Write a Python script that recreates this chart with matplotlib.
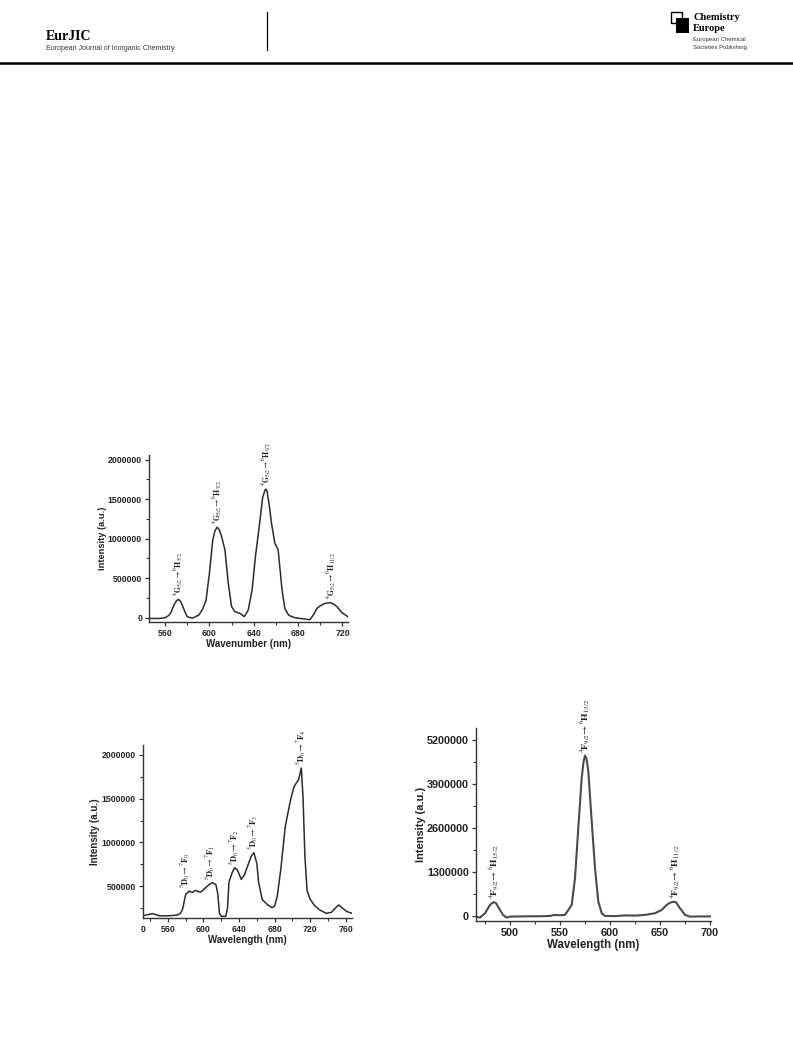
import numpy as np
import matplotlib
matplotlib.use("Agg")
import matplotlib.pyplot as plt
from matplotlib.patches import Rectangle
from matplotlib.lines import Line2D
from matplotlib.ticker import MultipleLocator, FixedLocator, FuncFormatter

plt.rcParams['font.family'] = ['Liberation Sans', 'DejaVu Sans']
plt.rcParams['mathtext.fontset'] = 'stix'

# --- spectrum 1 (Sm) ---
sm_nm = [545, 555, 560, 563, 565, 568, 570, 572, 574, 575.5, 578, 580, 584.5, 590.5, 594, 597,
         600, 603, 605, 607, 609, 611, 614, 617, 620, 623, 627.5, 631.5, 635, 638.5, 641.5,
         644, 646, 648, 650, 651, 652, 654, 656, 659, 662, 665.5, 668, 671.5, 677, 683, 690,
         691, 694, 697, 700, 703, 706, 709, 712, 715, 719.5, 724, 725]
sm_int = [-10000, -10000, 0, 25000, 55000, 160000, 210000, 232000, 205000, 160000, 70000,
          13000, -8000, 34000, 110000, 224000, 562000, 985000, 1100000, 1146000, 1110000,
          1027000, 858000, 435000, 140000, 76000, 55000, 13000, 97000, 351000, 774000, 1050000,
          1281000, 1520000, 1610000, 1628000, 1600000, 1420000, 1196000, 943000, 858000,
          351000, 118000, 30000, 0, -12000, -25000, -20000, 40000, 118000, 150000, 173000,
          185000, 190000, 172000, 140000, 63000, 21000, 10000]
sm_labels = [(572, 232000, r'$^{4}\mathbf{G}_{5/2}\!\rightarrow{}^{6}\mathbf{H}_{5/2}$'),
             (607, 1146000, r'$^{4}\mathbf{G}_{5/2}\!\rightarrow{}^{6}\mathbf{H}_{7/2}$'),
             (651, 1628000, r'$^{4}\mathbf{G}_{5/2}\!\rightarrow{}^{6}\mathbf{H}_{9/2}$'),
             (710, 190000, r'$^{4}\mathbf{G}_{5/2}\!\rightarrow{}^{6}\mathbf{H}_{11/2}$')]

# --- spectrum 2 (Eu) ---
eu_nm = [532, 538, 543, 550, 560, 570, 574, 576.5, 580, 584, 587.5, 591, 594, 597, 604, 607,
         610, 614, 616, 618, 620, 625, 627, 628.7, 632, 635, 638, 642.5, 646, 651, 654, 656.7,
         660, 662, 666, 672, 677, 680, 683, 687, 692, 698, 702, 707, 710, 712, 714, 716.5,
         720, 725, 731, 738, 744, 748, 752, 756, 761, 767]
eu_int = [165000, 180000, 190000, 165000, 165000, 172000, 190000, 240000, 410000, 447000,
          430000, 455000, 440000, 435000, 500000, 525000, 542000, 520000, 420000, 190000,
          158000, 160000, 250000, 550000, 650000, 712000, 690000, 580000, 630000, 769000,
          850000, 883000, 760000, 547000, 352000, 290000, 258000, 275000, 390000, 700000,
          1183000, 1489000, 1640000, 1716000, 1848000, 1500000, 850000, 450000, 352000,
          280000, 230000, 193000, 205000, 250000, 288000, 255000, 215000, 193000]
eu_labels = [(580, 447000, r'$^{5}\mathbf{D}_{0}\!\rightarrow{}^{7}\mathbf{F}_{0}$'),
             (608, 542000, r'$^{5}\mathbf{D}_{0}\!\rightarrow{}^{7}\mathbf{F}_{1}$'),
             (634.5, 712000, r'$^{5}\mathbf{D}_{0}\!\rightarrow{}^{7}\mathbf{F}_{2}$'),
             (656.5, 883000, r'$^{5}\mathbf{D}_{0}\!\rightarrow{}^{7}\mathbf{F}_{3}$'),
             (709.5, 1848000, r'$^{5}\mathbf{D}_{0}\!\rightarrow{}^{7}\mathbf{F}_{4}$')]

# --- spectrum 3 (Dy) ---
dy_nm = [466, 470, 475, 480, 482.5, 484.3, 486, 488, 493, 496.7, 500, 510, 520, 530, 540, 545,
         550, 555, 561.7, 565, 568.3, 571.7, 573.5, 575, 576.5, 578.3, 581.7, 585, 588.3,
         591.7, 595, 605, 615, 625, 635, 645, 651.7, 656.7, 660, 663.5, 666, 670, 675, 680,
         690, 700]
dy_int = [-20000, -50000, 80000, 326000, 390000, 405000, 380000, 277000, 30000, -50000, -20000,
          -15000, -10000, -10000, 0, 30000, 20000, 30000, 326000, 1117000, 2600000, 4083000,
          4550000, 4745000, 4650000, 4280000, 2800000, 1414000, 425000, 80000, 0, -5000,
          15000, 10000, 30000, 80000, 178000, 326000, 390000, 420000, 405000, 227000, 30000,
          -20000, -15000, -15000]
dy_labels = [(484.5, 405000, r'$^{4}\mathbf{F}_{9/2}\!\rightarrow{}^{6}\mathbf{H}_{15/2}$'),
             (575.5, 4745000, r'$^{4}\mathbf{F}_{9/2}\!\rightarrow{}^{6}\mathbf{H}_{13/2}$'),
             (665.5, 420000, r'$^{4}\mathbf{F}_{9/2}\!\rightarrow{}^{6}\mathbf{H}_{11/2}$')]

W, H = 793, 1053
fig = plt.figure(figsize=(W / 100, H / 100), dpi=100)
fig.patch.set_facecolor('white')

plain = FuncFormatter(lambda v, p: '%d' % round(v))


def rect(l, r, t, b):
    return [l / W, 1 - b / H, (r - l) / W, (b - t) / H]


def style(ax, xlabel, tfs=6.3, xfs=7.0, yfs=6.8, ypad=1.5):
    for s in ('top', 'right'):
        ax.spines[s].set_visible(False)
    for s in ('left', 'bottom'):
        ax.spines[s].set_color('#333333')
        ax.spines[s].set_linewidth(1.0)
    ax.yaxis.set_major_formatter(plain)
    ax.tick_params(which='major', direction='out', length=3, width=0.9, color='#333333',
                   labelsize=tfs, pad=2)
    ax.tick_params(which='minor', direction='out', length=2, width=0.8, color='#333333')
    for t in ax.get_xticklabels() + ax.get_yticklabels():
        t.set_fontweight('bold')
        t.set_color('#222222')
    ax.set_xlabel(xlabel, fontsize=xfs, fontweight='bold', color='#222222', labelpad=0.5)
    ax.set_ylabel('Intensity (a.u.)', fontsize=yfs, fontweight='bold', color='#222222',
                  labelpad=ypad)


def annotate(ax, labels, dy, fs=6.0):
    for x, y, s in labels:
        ax.text(x, y + dy, s, rotation=90, ha='center', va='bottom', fontsize=fs,
                color='#222222', clip_on=False)


# header
fig.text(46 / W, 1 - 36 / H, 'EurJIC', family=['Liberation Serif', 'DejaVu Serif'],
         fontweight='bold', fontsize=10, va='center', ha='left')
fig.text(46 / W, 1 - 48.5 / H, 'European Journal of Inorganic Chemistry', fontsize=5,
         va='center', ha='left', color='#333333')
fig.add_artist(Line2D([267 / W, 267 / W], [1 - 12 / H, 1 - 50 / H], color='black', lw=0.9))
fig.add_artist(Line2D([0, 1], [1 - 63 / H, 1 - 63 / H], color='black', lw=1.8))
fig.add_artist(Rectangle((671 / W, 1 - 23 / H), 11 / W, 11 / H, facecolor='white',
                         edgecolor='black', lw=1.0))
fig.add_artist(Rectangle((676 / W, 1 - 33 / H), 13 / W, 15 / H, facecolor='black',
                         edgecolor='black', lw=0))
fig.text(693 / W, 1 - 18 / H, 'Chemistry', family=['Liberation Serif', 'DejaVu Serif'],
         fontweight='bold', fontsize=7.5, va='center', ha='left')
fig.text(693 / W, 1 - 28.5 / H, 'Europe', family=['Liberation Serif', 'DejaVu Serif'],
         fontweight='bold', fontsize=7.5, va='center', ha='left')
fig.text(693 / W, 1 - 40 / H, 'European Chemical', fontsize=4.3, va='center', ha='left',
         color='#333333')
fig.text(693 / W, 1 - 47.5 / H, 'Societies Publishing', fontsize=4.3, va='center', ha='left',
         color='#333333')

# plot 1
ax1 = fig.add_axes(rect(149, 348, 455, 622))
ax1.plot(sm_nm, sm_int, color='#2b2b2b', lw=1.1)
ax1.set_xlim(545.5, 725)
ax1.set_ylim(-55000, 2060000)
ax1.xaxis.set_major_locator(MultipleLocator(40))
ax1.xaxis.set_minor_locator(MultipleLocator(20))
ax1.set_yticks([0, 500000, 1000000, 1500000, 2000000])
ax1.yaxis.set_minor_locator(MultipleLocator(250000))
style(ax1, 'Wavenumber (nm)', xfs=7.0, yfs=6.7, ypad=0.5)
annotate(ax1, sm_labels, 45000, fs=5.7)

# plot 2
ax2 = fig.add_axes(rect(143, 352, 745, 918))
ax2.plot(eu_nm, eu_int, color='#2b2b2b', lw=1.1)
ax2.set_xlim(532, 767)
ax2.xaxis.set_major_locator(FixedLocator([532, 560, 600, 640, 680, 720, 760]))
ax2.set_xticklabels(['0', '560', '600', '640', '680', '720', '760'])
ax2.xaxis.set_minor_locator(FixedLocator([540, 580, 620, 660, 700, 740]))
ax2.set_ylim(140000, 2110000)
ax2.set_yticks([500000, 1000000, 1500000, 2000000])
ax2.yaxis.set_minor_locator(FixedLocator([250000, 750000, 1250000, 1750000]))
style(ax2, 'Wavelength (nm)', xfs=7.0, yfs=7.0)
ax2.get_xticklines()[0].set_visible(False)
ax2.get_xticklines()[1].set_visible(False)
annotate(ax2, eu_labels, 30000, fs=6.0)

# plot 3
ax3 = fig.add_axes(rect(476, 711, 728, 921))
ax3.plot(dy_nm, dy_int, color='#4a4a4a', lw=1.5)
ax3.set_xlim(466, 701)
ax3.set_ylim(-150000, 5560000)
ax3.xaxis.set_major_locator(MultipleLocator(50))
ax3.xaxis.set_minor_locator(MultipleLocator(25))
ax3.set_yticks([0, 1300000, 2600000, 3900000, 5200000])
ax3.yaxis.set_minor_locator(MultipleLocator(650000))
style(ax3, 'Wavelength (nm)', tfs=7.8, xfs=8.3, yfs=7.9, ypad=0.5)
annotate(ax3, dy_labels, 90000, fs=6.8)

fig.savefig('out.png', dpi=100, facecolor='white')
